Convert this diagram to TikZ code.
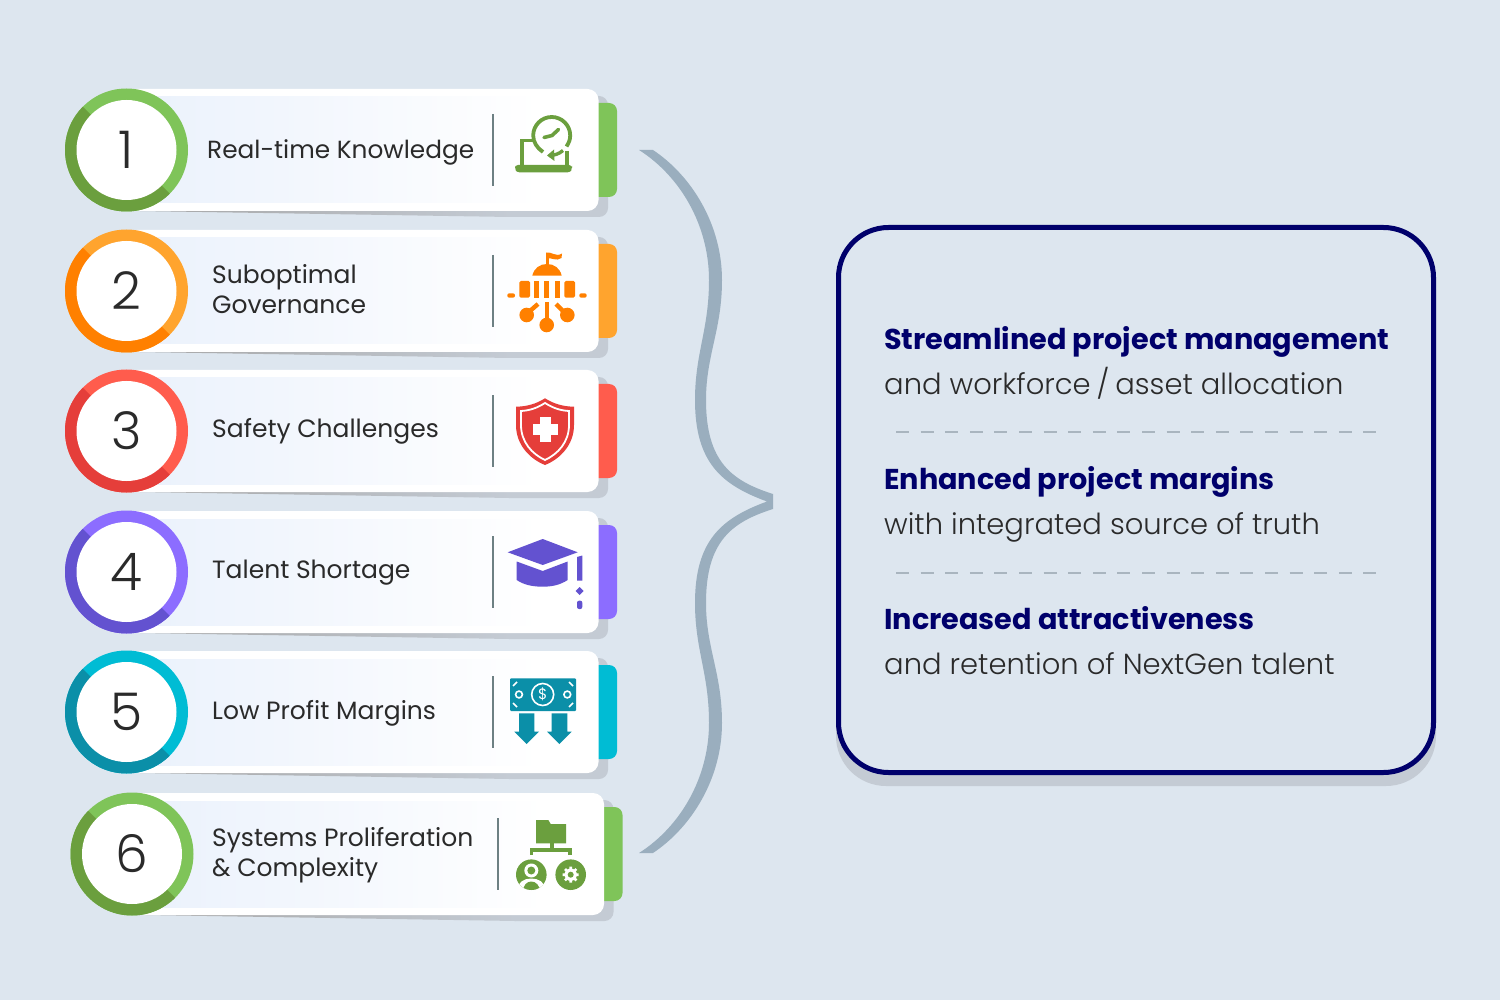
\documentclass[tikz,border=0pt]{standalone}
\usepackage{fontspec}
\setmainfont{Poppins}
\newfontfamily\lightfont{Poppins Light}
\usetikzlibrary{calc}
\definecolor{bgc}{HTML}{DDE6EF}
\definecolor{navyc}{HTML}{00006B}
\definecolor{txtc}{HTML}{2A2A2A}
\definecolor{shadowc}{HTML}{C4CBD4}
\definecolor{bracec}{HTML}{9AAEBE}
\definecolor{sepc}{HTML}{6D8083}
\definecolor{dashc}{HTML}{A9B5BF}
\definecolor{panelc}{HTML}{EAF1FC}
\definecolor{gl}{HTML}{7FC459}\definecolor{gd}{HTML}{6B9F3E}
\definecolor{ol}{HTML}{FFA42E}\definecolor{od}{HTML}{FF8000}
\definecolor{rl}{HTML}{FF5C4D}\definecolor{rd}{HTML}{E53E3A}
\definecolor{vl}{HTML}{8C6DFF}\definecolor{vd}{HTML}{6352D0}
\definecolor{cl}{HTML}{00BCD4}\definecolor{cd}{HTML}{0B8FA8}
\tikzset{
  cardtext/.style={anchor=base west,text=txtc,font=\fontsize{25}{30}\selectfont,inner sep=0pt},
  digit/.style={circle,fill=white,minimum size=100pt,inner sep=0pt,text=txtc,font=\lightfont\fontsize{52}{52}\selectfont},
  headtext/.style={anchor=base west,text=navyc,font=\bfseries\fontsize{28.7}{34}\selectfont,inner sep=0pt},
  bodytext/.style={anchor=base west,text=txtc,font=\lightfont\fontsize{29}{34}\selectfont,inner sep=0pt},
  dashline/.style={dashc,line width=2pt,dash pattern=on 13pt off 11.6pt},
}
% #1 id, #2 dx, #3 cy, #4 light, #5 dark, #6 digit
\newcommand{\cardrow}[6]{%
\begin{scope}[shift={(#2,#3)}]
  \fill[shadowc,rounded corners=9pt] (500,-54) rectangle (608,67);
  \shade[left color=black!35,right color=shadowc] (140,61) -- (510,67) -- (510,50) -- (140,50) -- cycle;
  \fill[#4,rounded corners=8pt] (590,-47) rectangle (617,47);
  \fill[white,rounded corners=11pt] (126,-61) rectangle (598.5,61);
  \shade[left color=panelc,right color=white] (126,-53) rectangle (540,53);
  \draw[sepc,line width=2pt] (492.5,-36) -- (492.5,36);
  \fill[#4] (126.5,0) circle[radius=61.5pt];
  \begin{scope}
    \clip (46,-80) -- (206,80) -- (46,80) -- cycle;
    \fill[#5] (126.5,0) circle[radius=61.5pt];
  \end{scope}
  \node[digit] (d#1) at (126.5,0) {#6};
\end{scope}}
\begin{document}
\begin{tikzpicture}[x=1pt,y=-1pt]
\useasboundingbox (0,0) rectangle (1500,1000);
\fill[bgc] (0,0) rectangle (1500,1000);

\cardrow{a}{0}{150}{gl}{gd}{1}
\cardrow{b}{0}{291}{ol}{od}{2}
\cardrow{c}{0}{431}{rl}{rd}{3}
\cardrow{e}{0}{572}{vl}{vd}{4}
\cardrow{f}{0}{712}{cl}{cd}{5}
\cardrow{g}{5.5}{854}{gl}{gd}{6}

\node[cardtext,font=\fontsize{24.8}{30}\selectfont] (t1) at (207,158.5) {Real-time Knowledge};
\node[cardtext] (t2a) at (212,283.5) {Suboptimal};
\node[cardtext] (t2b) at (212,313.5) {Governance};
\node[cardtext] (t3) at (212,437.5) {Safety Challenges};
\node[cardtext] (t4) at (212,578.5) {Talent Shortage};
\node[cardtext] (t5) at (212,719.5) {Low Profit Margins};
\node[cardtext] (t6a) at (212,846) {Systems Proliferation};
\node[cardtext] (t6b) at (212,876) {\& Complexity};

% icon 1: laptop and clock
\begin{scope}[gd]
  \draw[line width=3.6pt] (521.7,165) -- (521.7,140.5) -- (533,140.5);
  \draw[line width=3.6pt] (566.7,151) -- (566.7,165);
  \fill[rounded corners=3pt] (515,165) -- (572,165) -- (572,169) -- (570,172.5) -- (517,172.5) -- (515,169) -- cycle;
  \draw[line width=3.8pt] (566.5,146.5) .. controls (569,142.5) and (570.2,139.5) .. (570.2,135.5)
     .. controls (570.2,125.3) and (561.9,117) .. (551.7,117)
     .. controls (541.5,117) and (533.2,125.3) .. (533.2,135.5)
     .. controls (533.2,142) and (537,148) .. (543,152);
  \draw[line width=3.6pt,line cap=round] (544,137.5) -- (552,135.5) -- (558.5,129.5);
  \draw[line width=3.4pt] (563,150.5) .. controls (559,154) and (554,155.5) .. (549,155.5);
  \fill (547,155.5) -- (554,149.5) -- (554.5,161) -- cycle;
\end{scope}

% icon 2: dome
\begin{scope}[od]
  \fill (545.5,253) rectangle (548.5,266);
  \fill (546,252.5) .. controls (552,251.5) and (556,257.5) .. (562,253.5) -- (561.5,258) .. controls (556,262) and (552,257) .. (546,258.5) -- cycle;
  \fill (532.3,275.7) .. controls (534,268) and (540,264) .. (547,264) .. controls (554,264) and (560,268) .. (561.7,275.7) -- cycle;
  \fill[rounded corners=1.5pt] (519.3,281) rectangle (530,297.7);
  \fill (534.3,281) rectangle (539.3,297.7);
  \fill (544.3,281) rectangle (549.3,297.7);
  \fill (554.7,281) rectangle (559.7,297.7);
  \fill[rounded corners=1.5pt] (564.3,281) rectangle (575,297.7);
  \fill[rounded corners=2pt] (507.3,293.3) rectangle (515,297.7);
  \fill[rounded corners=2pt] (579.3,293.3) rectangle (586.7,297.7);
  \fill (526.7,315) circle[radius=7.3pt];
  \fill (546.7,325) circle[radius=7.3pt];
  \fill (567.3,315) circle[radius=7.3pt];
  \draw[line width=4.4pt] (538,304) -- (530,311);
  \draw[line width=4.4pt] (546.7,302) -- (546.7,320);
  \draw[line width=4.4pt] (556,304) -- (563,311);
\end{scope}

% icon 3: shield
\fill[rd] (545,398.3) .. controls (536,404) and (527,406.5) .. (516,406.7) -- (516,425)
   .. controls (516,445) and (530,459) .. (545,465) .. controls (560,459) and (574,445) .. (574,425) -- (574,406.7)
   .. controls (563,406.5) and (554,404) .. (545,398.3) -- cycle;
\draw[white,line width=1.8pt] (545,403) .. controls (537,408) and (530,410.5) .. (521,411) -- (521,425)
   .. controls (521,442) and (532,454) .. (545,460) .. controls (558,454) and (569,442) .. (569,425) -- (569,411)
   .. controls (560,410.5) and (553,408) .. (545,403) -- cycle;
\fill[white] (539.5,416.5) rectangle (550.5,441.5);
\fill[white] (532.5,423.5) rectangle (557.5,434.5);

% icon 4: cap
\begin{scope}[vd]
  \fill (542.7,539) -- (577.7,552.3) -- (542.7,565) -- (507.7,552.3) -- cycle;
  \fill (516.7,561.5) -- (542.7,571) -- (567.7,561.5) -- (567.7,580) .. controls (560,585) and (552,586.7) .. (542.7,586.7)
     .. controls (533,586.7) and (524,585) .. (516.7,580) -- cycle;
  \fill (577,557) -- (582.3,555.5) -- (582.3,580.7) -- (577,580.7) -- cycle;
  \fill (579.7,587) -- (583.7,591) -- (579.7,595) -- (575.7,591) -- cycle;
  \fill[rounded corners=2pt] (577,600.7) rectangle (582.3,609);
\end{scope}

% icon 5: money
\begin{scope}[cd]
  \fill[rounded corners=1pt] (510,678.3) rectangle (576,711);
  \draw[white,line width=1.6pt] (542.7,694.5) circle[radius=11pt];
  \draw[white,line width=1.6pt] (519,694.5) circle[radius=3.4pt];
  \draw[white,line width=1.6pt] (567.3,694.5) circle[radius=3.4pt];
  \draw[white,line width=1.6pt] (513,686) -- (517,682);
  \draw[white,line width=1.6pt] (569,682) -- (573,686);
  \draw[white,line width=1.6pt] (513,703) -- (517,707);
  \draw[white,line width=1.6pt] (569,707) -- (573,703);
  \node[text=white,font=\fontsize{15}{15}\selectfont,inner sep=0pt] (dollar) at (542.7,694.5) {\$};
  \fill (519,713.3) -- (534.3,713.3) -- (534.3,731.7) -- (539,731.7) -- (526.7,744) -- (514.3,731.7) -- (519,731.7) -- cycle;
  \fill (551.7,713.3) -- (567.3,713.3) -- (567.3,731.7) -- (571.7,731.7) -- (559.3,744) -- (547,731.7) -- (551.7,731.7) -- cycle;
\end{scope}

% icon 6: hierarchy
\begin{scope}[gd]
  \fill (536,820) -- (548.3,820) -- (550.7,824) -- (566,824) -- (566,843.3) -- (536,843.3) -- cycle;
  \fill (550,843) rectangle (554,849);
  \fill (529.7,848.3) rectangle (571.7,851.7);
  \fill (529.7,848.3) rectangle (533,855);
  \fill (568.3,848.3) rectangle (571.7,855);
  \fill (531.3,874.7) circle[radius=15.3pt];
  \fill (570.7,874.7) circle[radius=15.3pt];
  \fill[white] (531.3,870.5) circle[radius=7pt];
  \fill (531.3,870.5) circle[radius=4pt];
  \begin{scope}
    \clip (531.3,874.7) circle[radius=15.3pt];
    \fill[white] (517,890) .. controls (518,882) and (524,878.5) .. (531.3,878.5) .. controls (538.5,878.5) and (545,882) .. (545.5,890) -- cycle;
    \fill (523,892) .. controls (523,885) and (527,881.5) .. (531.3,881.5) .. controls (535.5,881.5) and (540,885) .. (540,892) -- cycle;
  \end{scope}
  \fill[white] (570.7,874.7) circle[radius=6.2pt];
  \draw[white,line width=2.6pt] (570.7,866.7) -- (570.7,882.7) (562.7,874.7) -- (578.7,874.7)
    (565,869) -- (576.4,880.4) (565,880.4) -- (576.4,869);
  \fill (570.7,874.7) circle[radius=3pt];
\end{scope}

% brace
\fill[bracec] (639,150) -- (653,150)
  .. controls (692,176) and (722,225) .. (722,280)
  .. controls (722,330) and (706,355) .. (706,400)
  .. controls (706,462) and (732,481) .. (773,494)
  -- (773,509)
  .. controls (732,522) and (706,541) .. (706,603)
  .. controls (706,648) and (722,673) .. (722,723)
  .. controls (722,778) and (692,827) .. (653,853)
  -- (639,853)
  .. controls (680,827) and (709,778) .. (709,723)
  .. controls (709,673) and (695,650) .. (695,603)
  .. controls (695,540) and (722,518) .. (767,501.5)
  .. controls (722,485) and (695,463) .. (695,400)
  .. controls (695,353) and (709,330) .. (709,280)
  .. controls (709,225) and (680,176) .. (639,150) -- cycle;

% right box
\fill[shadowc,rounded corners=50pt] (836,240) rectangle (1436,786);
\draw[navyc,line width=5pt,fill=bgc,rounded corners=50pt] (838.5,227.5) rectangle (1433.5,772.5);

\node[headtext] (h1) at (884,349.5) {Streamlined project management};
\node[bodytext] (b1) at (884,394.5) {and workforce\hspace{-2pt} / \hspace{-2pt}asset allocation};
\node[headtext] (h2) at (884,489) {Enhanced project margins};
\node[bodytext] (b2) at (884,534) {with integrated source of truth};
\node[headtext] (h3) at (884,629) {Increased attractiveness};
\node[bodytext] (b3) at (884,674) {and retention of NextGen talent};
\draw[dashline] (896,431.5) -- (1378,431.5);
\draw[dashline] (896,572.5) -- (1378,572.5);
\end{tikzpicture}
\end{document}
